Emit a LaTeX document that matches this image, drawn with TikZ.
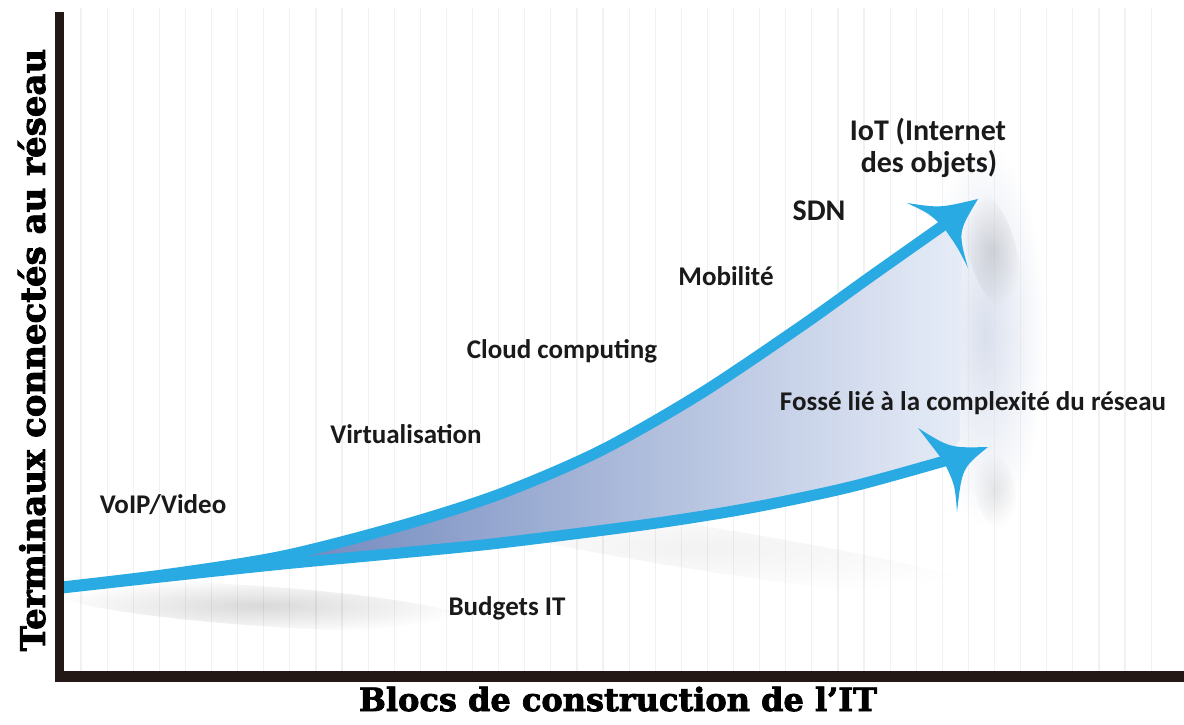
\documentclass[tikz,border=0pt]{standalone}
\usepackage{fontspec}
\setmainfont{Carlito}
\newfontfamily\axfont{DejaVu Serif}[BoldFeatures={FakeBold=2.5}]
\usetikzlibrary{fadings}
\tikzfading[name=softball, inner color=transparent!0, outer color=transparent!100]
\definecolor{axiscol}{HTML}{231815}
\definecolor{arrowblue}{HTML}{2AAAE2}
\definecolor{fillA}{HTML}{4A67AB}
\definecolor{fillM}{HTML}{8DA3D3}
\definecolor{fillB}{HTML}{E6ECF7}
\definecolor{stripecol}{HTML}{F1F1F1}
\definecolor{txt}{HTML}{1A1A1A}
\definecolor{glow}{HTML}{D6DDEC}
\begin{document}
\begin{tikzpicture}[x=1pt,y=-1pt,
  lab/.style={font=\bfseries\fontsize{27}{32}\selectfont, text=txt, inner sep=0pt, anchor=base},
  biglab/.style={font=\bfseries\fontsize{30}{32}\selectfont, text=txt, inner sep=0pt, anchor=base},
  axlab/.style={font=\axfont\bfseries\fontsize{32}{36}\selectfont, text=black, inner sep=0pt, anchor=base},
  stripe/.style={stripecol, line width=1.2},
  curve/.style={arrowblue, line width=11},
  soft/.style={path fading=softball},
  head/.style={fill=arrowblue}]
\useasboundingbox (0,0) rectangle (1184,725);
\fill[white] (0,0) rectangle (1184,725);
% stripes
\foreach \x in {81,107.1,...,1176} \draw[stripe] (\x,8) -- (\x,671);
% soft glow right of arrows
\fill[glow, opacity=0.9, soft] (985,335) ellipse [x radius=60, y radius=190];
% shadows
\fill[black, opacity=0.15, soft, rotate around={-4:(260,606)}] (260,606) ellipse [x radius=210, y radius=20];
\fill[black, opacity=0.05, soft, rotate around={-9:(700,548)}] (700,548) ellipse [x radius=320, y radius=22];
\fill[black, opacity=0.12, soft, rotate around={15:(992,250)}] (992,250) ellipse [x radius=24, y radius=60];
\fill[black, opacity=0.08, soft, rotate around={10:(995,490)}] (995,490) ellipse [x radius=20, y radius=38];
% gap fill
\shade[left color=fillA, middle color=fillM, right color=fillB]
  plot[smooth] coordinates {(62,587) (170,574) (283,556) (400,526) (500,494) (600,451) (700,394) (800,327) (870,277) (945,224)}
  -- (962,250) -- (960,440) --
  plot[smooth] coordinates {(945,461) (850,487) (750,508) (650,524) (500,543) (400,553) (283,564) (170,576) (62,588)} -- cycle;
% curves
\draw[curve] plot[smooth] coordinates {(62,587) (170,574) (283,556) (400,526) (500,494) (600,451) (700,394) (800,327) (870,277) (948,222)};
\draw[curve] plot[smooth] coordinates {(62,588) (170,576) (283,564) (400,553) (500,543) (650,524) (750,508) (850,487) (948,460)};
% arrowheads
\coordinate (T1) at (978,199);
\coordinate (L1) at (907,203);
\coordinate (R1) at (968,268);
\coordinate (N1) at (944,228);
\fill[head] (L1) .. controls (940,208) .. (T1) .. controls (958,232) .. (R1) .. controls (958,248) .. (N1) .. controls (930,214) .. (L1) -- cycle;
\coordinate (T2) at (988,447);
\coordinate (L2) at (918,428);
\coordinate (R2) at (957,512);
\coordinate (N2) at (944,462);
\fill[head] (L2) .. controls (950,448) .. (T2) .. controls (962,468) .. (R2) .. controls (955,485) .. (N2) .. controls (935,450) .. (L2) -- cycle;
% axes
\fill[axiscol] (55,12) rectangle (64,682);
\fill[axiscol] (55,671) rectangle (1184,682);
% axis labels
\node[axlab] (xl) at (618,711) {Blocs de construction de l’IT};
\node[axlab, rotate=90, font=\axfont\bfseries\fontsize{34}{36}\selectfont] (yl) at (45,350) {Terminaux connectés au réseau};
% labels
\node[lab] (voip) at (163,513) {VoIP/Video};
\node[lab] (virt) at (406,443) {Virtualisation};
\node[lab] (cloud) at (562,358) {Cloud computing};
\node[lab] (mob) at (726,285) {Mobilité};
\node[biglab] (sdn) at (819,220) {SDN};
\node[biglab] (iot1) at (928,140) {IoT (Internet};
\node[biglab] (iot2) at (929,172) {des objets)};
\node[lab] (fosse) at (973,410) {Fossé lié à la complexité du réseau};
\node[lab] (budg) at (507,615) {Budgets IT};
\end{tikzpicture}
\end{document}
